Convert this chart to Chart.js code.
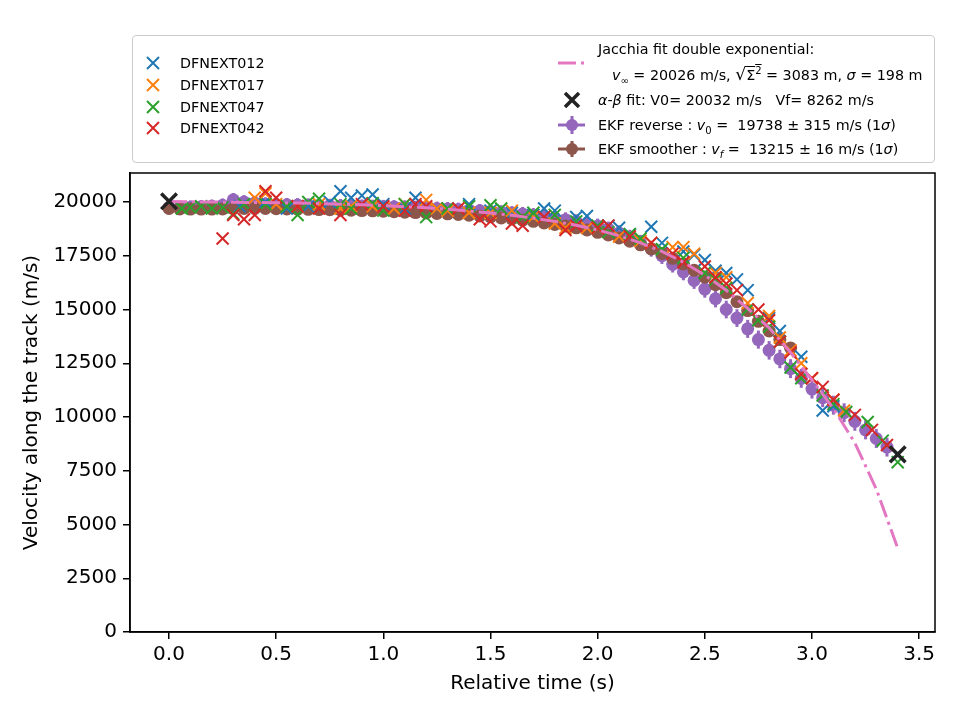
<!DOCTYPE html>
<html>
<head>
<meta charset="utf-8">
<script src="https://cdn.jsdelivr.net/npm/chart.js@4"></script>
<style>
  html, body { margin: 0; padding: 0; background: #fff; }
  #wrap { position: relative; width: 960px; height: 720px; }
  #legend {
    position: absolute; left: 132px; top: 35px; width: 801px; height: 126px;
    border: 1.5px solid #cccccc; border-radius: 4px; background: rgba(255,255,255,0.8);
    font-family: 'DejaVu Sans'; font-size: 14.3px; color: #000;
  }
  #legend svg { position: absolute; left: 0; top: 0; }
  .lt { position: absolute; white-space: pre; line-height: 18px; }
  sub, sup { font-size: 70%; line-height: 0; }
</style>
</head>
<body>
<div id="wrap">
  <canvas id="c" width="960" height="720"></canvas>
  <div id="legend">
    <svg width="801" height="126">
      <g stroke-width="2" fill="none">
        <path d="M14 21 L26 33 M26 21 L14 33" stroke="#1f77b4"/>
        <path d="M14 43 L26 55 M26 43 L14 55" stroke="#ff7f0e"/>
        <path d="M14 65 L26 77 M26 65 L14 77" stroke="#2ca02c"/>
        <path d="M14 86 L26 98 M26 86 L14 98" stroke="#d62728"/>
      </g>
      <line x1="425" y1="27" x2="452" y2="27" stroke="#e377c2" stroke-width="3" stroke-dasharray="18,5,3,5"/>
      <path d="M432 57 L446 71 M446 57 L432 71" stroke="#222" stroke-width="3.5" fill="none"/>
      <line x1="425" y1="89" x2="452" y2="89" stroke="#9467bd" stroke-width="3"/>
      <line x1="439" y1="80" x2="439" y2="98" stroke="#9467bd" stroke-width="3"/>
      <circle cx="439" cy="89" r="6" fill="#9467bd"/>
      <line x1="425" y1="113" x2="452" y2="113" stroke="#8c564b" stroke-width="3"/>
      <line x1="439" y1="105" x2="439" y2="121" stroke="#8c564b" stroke-width="3"/>
      <circle cx="439" cy="113" r="6" fill="#8c564b"/>
    </svg>
    <span class="lt" style="left:47px; top:18px">DFNEXT012</span>
    <span class="lt" style="left:47px; top:40px">DFNEXT017</span>
    <span class="lt" style="left:47px; top:62px">DFNEXT047</span>
    <span class="lt" style="left:47px; top:83px">DFNEXT042</span>
    <span class="lt" style="left:465px; top:4px">Jacchia fit double exponential:</span>
    <span class="lt" style="left:479px; top:29px"><i>v</i><sub>∞</sub> = 20026 m/s, <span style="font-size:120%">√</span><span style="text-decoration:overline">Σ<sup>2</sup></span> = 3083 m, <i>σ</i> = 198 m</span>
    <span class="lt" style="left:465px; top:55px"><i>α</i>-<i>β</i> fit: V0= 20032 m/s   Vf= 8262 m/s</span>
    <span class="lt" style="left:465px; top:80px">EKF reverse : <i>v</i><sub>0</sub> =  19738 ± 315 m/s (1<i>σ</i>)</span>
    <span class="lt" style="left:465px; top:104px">EKF smoother : <i>v<sub>f</sub></i> =  13215 ± 16 m/s (1<i>σ</i>)</span>
  </div>
</div>
<script>
// axis ranges and tick labels
const X_MIN = -0.182, X_MAX = 3.574;
const Y_MIN = 0, Y_MAX = 21350;
const xTicks = [0.0, 0.5, 1.0, 1.5, 2.0, 2.5, 3.0, 3.5];
const yTicks = [0, 2500, 5000, 7500, 10000, 12500, 15000, 17500, 20000];

// camera measurements (time s, velocity m/s)
const t012 = [0.33,0.45,0.55,0.65,0.75,0.80,0.85,0.90,0.95,1.00,1.10,1.15,1.25,1.40,1.50,1.60,1.70,1.75,1.80,1.90,
              1.95,2.05,2.10,2.15,2.25,2.30,2.40,2.45,2.50,2.55,2.60,2.65,2.70,2.80,2.85,2.95,3.05,3.10];
const v012 = [19800,20000,19700,19800,20000,20500,20200,20300,20350,19900,19700,20200,19700,19900,19600,19500,19400,19700,19600,19300,
              19350,18900,18800,18500,18850,18100,17700,17550,17300,16800,16700,16400,15900,14600,14000,12800,10300,10500];

const t017 = [0.40,0.45,0.50,0.60,0.70,0.80,0.85,0.95,1.05,1.10,1.20,1.25,1.30,1.40,1.50,1.60,1.70,1.80,1.85,1.95,
              2.00,2.10,2.20,2.25,2.35,2.40,2.45,2.55,2.60,2.70,2.80,2.85,2.90,2.95,3.00,3.10,3.15];
const v017 = [20200,20400,19900,19800,19900,19700,19800,19800,19700,19900,20100,19700,19600,19500,19500,19600,19300,19000,18800,18800,
              18800,18400,18200,18100,17900,17900,17600,16700,16500,15300,14700,13700,13100,12500,11800,10800,10300];

const t047 = [0.06,0.10,0.15,0.20,0.25,0.30,0.35,0.45,0.55,0.60,0.65,0.70,0.80,0.85,0.95,1.00,1.10,1.20,1.30,1.40,
              1.50,1.55,1.65,1.70,1.80,1.90,2.00,2.05,2.15,2.20,2.30,2.40,2.50,2.55,2.60,2.70,2.75,2.80,2.85,2.90,
              2.95,3.05,3.10,3.16,3.26,3.33,3.40];
const v047 = [19700,19750,19800,19700,19750,19450,19900,19900,19800,19400,20000,20150,19900,19700,19950,19600,19900,19300,19700,19800,
              19850,19700,19300,19500,19400,19100,18900,18600,18500,18300,17800,17400,16700,16400,16000,15000,14500,14200,13500,12300,
              11800,11000,10600,10230,9770,8900,7900];

const t042 = [0.25,0.30,0.35,0.40,0.45,0.50,0.60,0.70,0.80,0.90,1.00,1.10,1.15,1.20,1.35,1.45,1.50,1.60,1.65,1.75,
              1.85,1.90,2.00,2.05,2.15,2.25,2.35,2.40,2.50,2.55,2.60,2.65,2.75,2.80,2.85,2.90,2.95,3.00,3.05,3.10,
              3.20,3.28,3.35];
const v042 = [18300,19400,19200,19400,20500,20200,19800,19700,19400,19900,19800,19600,19900,19800,19700,19200,19100,19000,18900,19300,
              18700,18900,18800,18900,18400,18100,17600,17200,17000,16500,16200,15900,15000,14500,13500,13000,12000,11800,11400,10800,
              10100,9400,8700];

// Jacchia double exponential fit
const tJac = [0.0,0.1,0.2,0.3,0.4,0.5,0.6,0.7,0.8,0.9,1.0,1.1,1.2,1.3,1.4,1.5,1.6,1.7,1.8,1.9,
              2.0,2.1,2.2,2.3,2.4,2.5,2.6,2.7,2.8,2.9,3.0,3.1,3.2,3.3,3.4];
const vJac = [20020,20010,20000,19990,19980,19970,19950,19930,19900,19870,19830,19780,19730,19660,19580,19490,19380,19250,19100,18920,
              18700,18430,18100,17700,17200,16600,15900,15050,14150,13000,11720,10400,8800,6650,3900];

// alpha-beta fit end points
const tAB = [0.0, 3.4];
const vAB = [20032, 8262];

// EKF reverse (with 1 sigma)
const tRev = [0.00,0.05,0.10,0.15,0.20,0.25,0.30,0.35,0.40,0.45,0.50,0.55,0.60,0.65,0.70,0.75,0.80,0.85,0.90,0.95,
              1.00,1.05,1.10,1.15,1.20,1.25,1.30,1.35,1.40,1.45,1.50,1.55,1.60,1.65,1.70,1.75,1.80,1.85,1.90,1.95,
              2.00,2.05,2.10,2.15,2.20,2.25,2.30,2.35,2.40,2.45,2.50,2.55,2.60,2.65,2.70,2.75,2.80,2.85,2.90,2.95,
              3.00,3.05,3.10,3.15,3.20,3.25,3.30,3.35];
const vRev = [19738,19750,19760,19780,19800,19850,20100,20000,19950,19900,19880,19870,19860,19850,19840,19830,19820,19810,19800,19790,
              19780,19770,19760,19740,19720,19700,19680,19650,19620,19590,19560,19520,19480,19440,19390,19330,19260,19180,19090,18990,
              18880,18740,18560,18350,18100,17830,17500,17100,16750,16350,15950,15500,15000,14600,14100,13600,13100,12700,12250,11800,
              11300,10900,10550,10200,9800,9400,9000,8600];
const eRev = [315,315,315,315,315,315,320,320,320,320,320,320,320,320,320,320,320,320,320,320,
              320,320,320,320,320,320,320,320,320,320,330,330,330,330,330,340,340,340,340,340,
              350,350,360,360,370,370,380,380,390,390,400,400,410,410,420,420,430,430,440,440,
              440,440,440,440,440,440,440,440];

// EKF smoother
const tSm = [0.00,0.05,0.10,0.15,0.20,0.25,0.30,0.35,0.40,0.45,0.50,0.55,0.60,0.65,0.70,0.75,0.80,0.85,0.90,0.95,
             1.00,1.05,1.10,1.15,1.20,1.25,1.30,1.35,1.40,1.45,1.50,1.55,1.60,1.65,1.70,1.75,1.80,1.85,1.90,1.95,
             2.00,2.05,2.10,2.15,2.20,2.25,2.30,2.35,2.40,2.45,2.50,2.55,2.60,2.65,2.70,2.75,2.80,2.85,2.90];
const vSm = [19700,19680,19670,19670,19670,19680,19690,19700,19700,19700,19690,19680,19670,19660,19650,19640,19630,19620,19600,19590,
             19570,19550,19530,19510,19490,19470,19450,19420,19390,19350,19310,19260,19210,19160,19100,19030,18960,18880,18800,18700,
             18590,18470,18330,18180,18010,17820,17610,17380,17120,16830,16510,16160,15780,15360,14950,14450,14000,13600,13215];

const pts = (ts, vs) => ts.map((t, i) => ({ x: t, y: vs[i] }));
const FONT = { family: 'DejaVu Sans', size: 20 };

// box round the plot area
const frame = {
  id: 'frame',
  afterDatasetsDraw(chart) {
    const { ctx, chartArea: a } = chart;
    ctx.save();
    ctx.strokeStyle = '#000';
    ctx.lineWidth = 1.5;
    ctx.strokeRect(a.left, a.top, a.right - a.left, a.bottom - a.top);
    ctx.restore();
  }
};

// vertical error bars for datasets that carry an errors array
const errorBars = {
  id: 'errorBars',
  beforeDatasetDraw(chart, args) {
    const ds = chart.data.datasets[args.index];
    if (!ds.errors) return;
    const y = chart.scales.y, c = chart.ctx;
    c.save();
    c.strokeStyle = ds.borderColor;
    c.lineWidth = 3;
    args.meta.data.forEach((p, i) => {
      const v = ds.data[i].y, e = ds.errors[i];
      c.beginPath();
      c.moveTo(p.x, y.getPixelForValue(v - e));
      c.lineTo(p.x, y.getPixelForValue(v + e));
      c.stroke();
    });
    c.restore();
  }
};

const xMark = (label, data, color, order) => ({
  label, data, order,
  pointStyle: 'crossRot', pointRadius: 8.5, pointBorderWidth: 2,
  borderColor: color, backgroundColor: color
});

new Chart(document.getElementById('c'), {
  type: 'scatter',
  data: {
    datasets: [
      { label: 'alpha-beta', data: pts(tAB, vAB), order: 0,
        pointStyle: 'crossRot', pointRadius: 11, pointBorderWidth: 3.5,
        borderColor: '#222222', backgroundColor: '#222222' },
      { label: 'Jacchia', data: pts(tJac, vJac), order: 1, showLine: true,
        borderColor: '#e377c2', borderWidth: 3, borderDash: [18, 5, 3, 5], pointRadius: 0 },
      xMark('DFNEXT042', pts(t042, v042), '#d62728', 2),
      xMark('DFNEXT047', pts(t047, v047), '#2ca02c', 3),
      xMark('DFNEXT017', pts(t017, v017), '#ff7f0e', 4),
      xMark('DFNEXT012', pts(t012, v012), '#1f77b4', 5),
      { label: 'EKF smoother', data: pts(tSm, vSm), order: 6,
        pointRadius: 6.5, pointBorderWidth: 0, borderColor: '#8c564b', backgroundColor: '#8c564b' },
      { label: 'EKF reverse', data: pts(tRev, vRev), errors: eRev, order: 7,
        pointRadius: 6.5, pointBorderWidth: 0, borderColor: '#9467bd', backgroundColor: '#9467bd' }
    ]
  },
  options: {
    responsive: false,
    animation: false,
    layout: { padding: { top: 173, right: 25, left: 0, bottom: 0 } },
    plugins: { legend: { display: false }, tooltip: { enabled: false } },
    scales: {
      x: {
        type: 'linear', min: X_MIN, max: X_MAX,
        afterBuildTicks: s => { s.ticks = xTicks.map(v => ({ value: v })); },
        afterFit: s => { s.height = 88; },
        border: { display: true, color: '#000', width: 1.5 },
        grid: { drawOnChartArea: false, drawTicks: true, tickLength: 7, color: '#000', lineWidth: 1.5 },
        ticks: { padding: 4, color: '#000', font: FONT, maxRotation: 0, autoSkip: false,
                 callback: v => v.toFixed(1) },
        title: { display: true, text: 'Relative time (s)', color: '#000', font: FONT,
                 padding: { top: 0, bottom: 24 } }
      },
      y: {
        type: 'linear', min: Y_MIN, max: Y_MAX,
        afterBuildTicks: s => { s.ticks = yTicks.map(v => ({ value: v })); },
        afterFit: s => { s.width = 130; },
        border: { display: true, color: '#000', width: 1.5 },
        grid: { drawOnChartArea: false, drawTicks: true, tickLength: 7, color: '#000', lineWidth: 1.5 },
        ticks: { padding: 6, color: '#000', font: FONT, autoSkip: false, callback: v => String(v) },
        title: { display: true, text: 'Velocity along the track (m/s)', color: '#000', font: FONT,
                 padding: { top: 20, bottom: 0 } }
      }
    }
  },
  plugins: [errorBars, frame]
});
</script>
</body>
</html>
